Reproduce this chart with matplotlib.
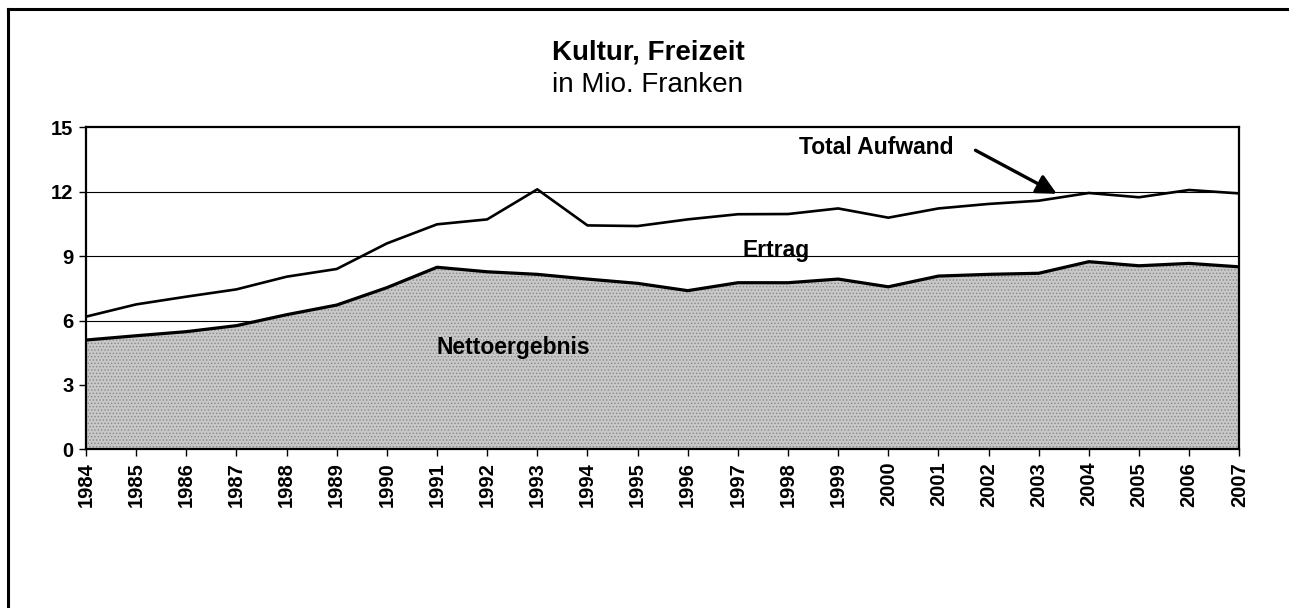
import matplotlib
matplotlib.use('Agg')
import matplotlib.pyplot as plt
from matplotlib.lines import Line2D

plt.rcParams['font.family'] = ['Liberation Sans', 'DejaVu Sans']
plt.rcParams['hatch.linewidth'] = 0.6

years = list(range(1984, 2008))
total_aufwand = [6.18, 6.75, 7.11, 7.45, 8.04, 8.40, 9.59, 10.48, 10.71, 12.11,
                 10.43, 10.40, 10.71, 10.95, 10.96, 11.22, 10.79, 11.22, 11.43, 11.58,
                 11.94, 11.74, 12.08, 11.92]
nettoergebnis = [5.09, 5.29, 5.48, 5.76, 6.27, 6.72, 7.53, 8.48, 8.27, 8.15,
                 7.93, 7.73, 7.39, 7.76, 7.76, 7.93, 7.57, 8.07, 8.15, 8.20,
                 8.74, 8.55, 8.66, 8.50]
y_ticks = [0, 3, 6, 9, 12, 15]

fig = plt.figure(figsize=(12.89, 6.08), dpi=100)
ax = fig.add_axes([86/1289, 1 - 449.3/608, (1239.3 - 86)/1289, (449.3 - 127.3)/608])

# gitterlinien
for yv in y_ticks[1:-1]:
    ax.axhline(yv, color='black', linewidth=0.8, zorder=1)

# flaeche nettoergebnis
ax.fill_between(years, 0, nettoergebnis, facecolor='#c8c8c8', edgecolor='#888888',
                hatch='.....', linewidth=0, zorder=2)
ax.plot(years, nettoergebnis, color='black', linewidth=2.3, zorder=4)
ax.plot(years, total_aufwand, color='black', linewidth=1.9, zorder=4)

ax.set_xlim(1984, 2007)
ax.set_ylim(0, 15)
ax.set_yticks(y_ticks)
ax.set_xticks(years)
ax.set_xticklabels([str(y) for y in years], rotation=90, fontweight='bold', fontsize=14.5)
ax.set_yticklabels([str(v) for v in y_ticks], fontweight='bold', fontsize=14.5)
ax.tick_params(axis='both', direction='out', length=5, width=1, pad=4)

for s in ax.spines.values():
    s.set_linewidth(1.6)
    s.set_zorder(5)

# beschriftungen
ax.text(1999.76, 14.08, 'Total Aufwand', ha='center', va='center',
        fontsize=16.5, fontweight='bold', zorder=6)
ax.text(1997.76, 9.28, 'Ertrag', ha='center', va='center',
        fontsize=16.5, fontweight='bold', zorder=6)
ax.text(1992.52, 4.76, 'Nettoergebnis', ha='center', va='center',
        fontsize=16.5, fontweight='bold', zorder=6)
ax.annotate('', xy=(2003.41, 11.84), xytext=(2001.69, 13.99),
            arrowprops=dict(arrowstyle='-|>', color='black', lw=2.4,
                            mutation_scale=30), zorder=6)

fig.text(648/1289, 1 - 53/608, 'Kultur, Freizeit', ha='center', va='center',
         fontsize=20, fontweight='bold')
fig.text(648/1289, 1 - 85/608, 'in Mio. Franken', ha='center', va='center',
         fontsize=20)

# rahmen (nur links und oben sichtbar)
fig.add_artist(Line2D([7.5/1289, 7.5/1289], [0, 1 - 9/608], color='black',
                      linewidth=2.2, transform=fig.transFigure))
fig.add_artist(Line2D([7.5/1289, 1], [1 - 9/608, 1 - 9/608], color='black',
                      linewidth=2.2, transform=fig.transFigure))

fig.savefig('out.png', dpi=100)
